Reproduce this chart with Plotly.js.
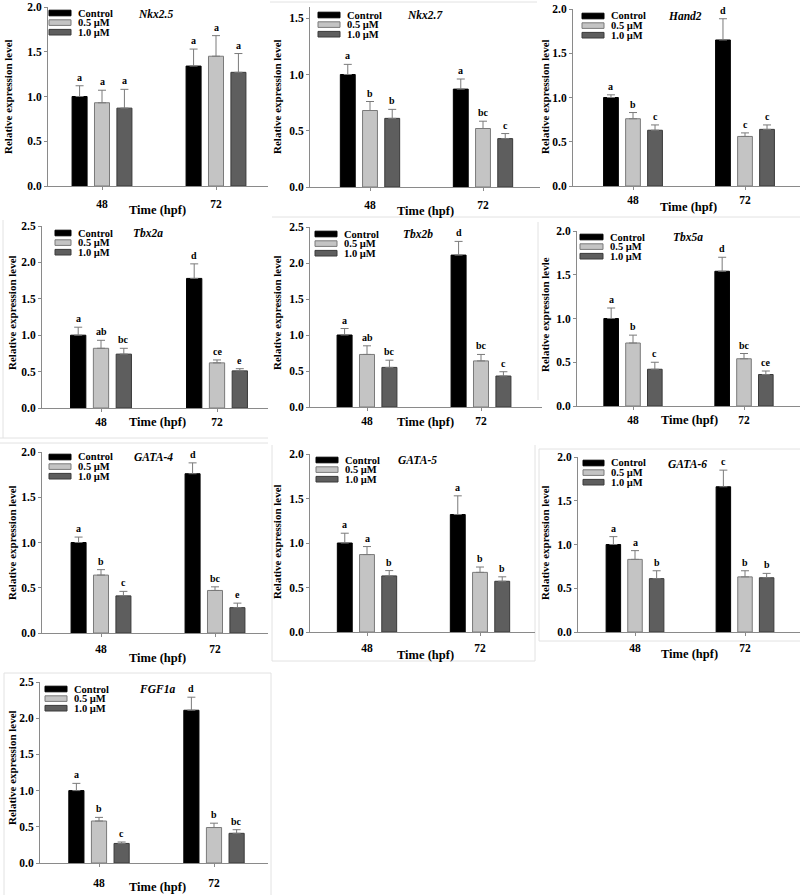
<!DOCTYPE html>
<html>
<head>
<meta charset="utf-8">
<script src="https://cdn.plot.ly/plotly-3.0.1.min.js"></script>
<style>html,body{margin:0;padding:0;background:#fff;}#chart{width:800px;height:895px;}</style>
</head>
<body>
<div id="chart"></div>
<script>
// ---------------- DATA ----------------
const groups = ['48', '72'];
const seriesNames = ['Control', '0.5 \u00b5M', '1.0 \u00b5M'];
const genes = ['Nkx2.5', 'Nkx2.7', 'Hand2', 'Tbx2a', 'Tbx2b', 'Tbx5a', 'GATA-4', 'GATA-5', 'GATA-6', 'FGF1a'];
const yTitles = ['Relative expression level', 'Relative expression level', 'Relative expression level',
  'Relative expression level', 'Relative expression level', 'Relative expression levle',
  'Relative expression level', 'Relative expression level', 'Relative expression level', 'Relative expression level'];
const yMax = [2.0, 1.6, 2.0, 2.5, 2.5, 2.0, 2.0, 2.0, 2.0, 2.5];

const controlMean = [[1.00, 1.34], [1.00, 0.87], [1.00, 1.65], [1.00, 1.78], [1.00, 2.11], [1.00, 1.54], [1.00, 1.76], [1.00, 1.32], [1.00, 1.66], [1.00, 2.11]];
const controlErr  = [[0.12, 0.19], [0.09, 0.09], [0.03, 0.24], [0.11, 0.20], [0.09, 0.19], [0.12, 0.16], [0.06, 0.12], [0.11, 0.21], [0.09, 0.19], [0.10, 0.18]];
const halfMean    = [[0.93, 1.45], [0.68, 0.52], [0.76, 0.56], [0.82, 0.62], [0.73, 0.64], [0.72, 0.54], [0.64, 0.47], [0.87, 0.67], [0.83, 0.63], [0.58, 0.49]];
const halfErr     = [[0.14, 0.23], [0.08, 0.065], [0.07, 0.04], [0.11, 0.04], [0.12, 0.09], [0.09, 0.06], [0.06, 0.04], [0.09, 0.06], [0.10, 0.07], [0.05, 0.06]];
const oneMean     = [[0.87, 1.27], [0.61, 0.43], [0.63, 0.64], [0.74, 0.51], [0.55, 0.43], [0.42, 0.36], [0.41, 0.28], [0.63, 0.57], [0.61, 0.62], [0.27, 0.41]];
const oneErr      = [[0.21, 0.21], [0.08, 0.045], [0.06, 0.05], [0.08, 0.03], [0.10, 0.06], [0.08, 0.04], [0.05, 0.05], [0.06, 0.05], [0.09, 0.05], [0.02, 0.05]];

const controlLetters = [['a', 'a'], ['a', 'a'], ['a', 'd'], ['a', 'd'], ['a', 'd'], ['a', 'd'], ['a', 'd'], ['a', 'a'], ['a', 'c'], ['a', 'd']];
const halfLetters    = [['a', 'a'], ['b', 'bc'], ['b', 'c'], ['ab', 'ce'], ['ab', 'bc'], ['b', 'bc'], ['b', 'bc'], ['a', 'b'], ['a', 'b'], ['b', 'b']];
const oneLetters     = [['a', 'a'], ['b', 'c'], ['c', 'c'], ['bc', 'e'], ['bc', 'c'], ['c', 'ce'], ['c', 'e'], ['b', 'b'], ['b', 'b'], ['c', 'bc']];

// ---------------- LAYOUT GEOMETRY (pixels) ----------------
// L: y-axis x, R: x-axis end, top: y px of range max, bot: y px of 0, c48/c72: group centres
const geom = [
  {L: 48,  R: 268, top: 7,   bot: 186, c48: 102, c72: 216, so: 4, yt: [8, 97],    xt: [157, 210], gn: [155, 14],  lg: [49, 76, 13]},
  {L: 310, R: 540, top: 7,   bot: 187, c48: 370, c72: 483, so: 4, yt: [277, 97],  xt: [425, 211], gn: [425, 15],  lg: [318, 345, 15]},
  {L: 573, R: 800, top: 9,   bot: 186, c48: 633, c72: 745, so: 0, yt: [545, 97],  xt: [688, 207], gn: [685, 16],  lg: [582, 609, 16]},
  {L: 42,  R: 268, top: 226, bot: 408, c48: 101, c72: 217, so: 0, yt: [12, 313],  xt: [157, 422], gn: [148, 233], lg: [55, 76, 233]},
  {L: 310, R: 542, top: 227, bot: 407, c48: 367, c72: 481, so: 0, yt: [277, 313], xt: [425, 422], gn: [418, 234], lg: [315, 342, 234]},
  {L: 577, R: 800, top: 231, bot: 406, c48: 633, c72: 744, so: 0, yt: [545, 315], xt: [689, 420], gn: [688, 237], lg: [580, 608, 237]},
  {L: 42,  R: 268, top: 452, bot: 633, c48: 101, c72: 215, so: 2, yt: [12, 543],  xt: [157, 658], gn: [153, 457], lg: [49, 76, 457]},
  {L: 310, R: 535, top: 454, bot: 632, c48: 367, c72: 480, so: 2, yt: [277, 542], xt: [425, 655], gn: [417, 460], lg: [316, 343, 460]},
  {L: 578, R: 800, top: 457, bot: 632, c48: 635, c72: 745, so: 2, yt: [545, 543], xt: [689, 654], gn: [687, 464], lg: [583, 609, 463]},
  {L: 40,  R: 268, top: 682, bot: 863, c48: 99,  c72: 214, so: 6, yt: [12, 768],  xt: [157, 887], gn: [157, 689], lg: [45, 72, 689]}
];

const W = 800, H = 895;
const px = v => v / W;
const py = v => 1 - v / H;

const FONT = '"Liberation Serif", "Times New Roman", "DejaVu Serif", serif';
const AXIS = '#8a8a8a';
const fills = ['#000000', '#c4c4c4', '#5e5e5e'];
const lines = ['#000000', '#7a7a7a', '#3a3a3a'];
const BARGAP = 0.41, GROUPGAP = 0.33;
const slot = (1 - BARGAP) / 3;

const means = [controlMean, halfMean, oneMean];
const errs = [controlErr, halfErr, oneErr];
const letters = [controlLetters, halfLetters, oneLetters];

const bf = (size) => ({family: FONT, size: size, color: '#000', weight: 'bold'});

const traces = [];
const annotations = [];
const shapes = [];
const layout = {
  width: W, height: H,
  margin: {l: 0, r: 0, t: 0, b: 0},
  paper_bgcolor: '#ffffff', plot_bgcolor: 'rgba(0,0,0,0)',
  barmode: 'group', bargap: BARGAP, bargroupgap: GROUPGAP,
  showlegend: false,
  font: {family: FONT, color: '#000'}
};

genes.forEach((gene, g) => {
  const G = geom[g];
  const n = g + 1;
  const xa = 'x' + (n === 1 ? '' : n), ya = 'y' + (n === 1 ? '' : n);
  const unit = G.c72 - G.c48;
  const xmin = -(G.c48 - G.L) / unit;
  const xmax = 1 + (G.R - G.c72) / unit;

  for (let s = 0; s < 3; s++) {
    traces.push({
      type: 'bar', name: seriesNames[s], x: [0, 1], y: means[s][g],
      xaxis: xa, yaxis: ya,
      marker: {color: fills[s], line: {color: lines[s], width: 1}},
      error_y: {type: 'data', symmetric: false, array: errs[s][g], arrayminus: [0, 0],
        color: '#7a7a7a', thickness: 1, width: 4},
      hoverinfo: 'skip', showlegend: false
    });
    for (let i = 0; i < 2; i++) {
      annotations.push({
        xref: xa, yref: ya, x: i + (s - 1) * slot, y: means[s][g][i] + errs[s][g][i],
        text: letters[s][g][i], showarrow: false,
        xanchor: 'center', yanchor: 'bottom', yshift: 1,
        font: bf(10)
      });
    }
  }

  layout['xaxis' + (n === 1 ? '' : n)] = {
    domain: [px(G.L), px(G.R)], anchor: ya, range: [xmin, xmax],
    tickvals: [0, 1], ticktext: groups,
    ticks: 'outside', ticklen: 3, tickcolor: AXIS, showline: true, linecolor: AXIS, linewidth: 1,
    showgrid: false, zeroline: false, fixedrange: true, ticklabelstandoff: G.so,
    tickfont: bf(11.5)
  };
  layout['yaxis' + (n === 1 ? '' : n)] = {
    domain: [py(G.bot), py(G.top)], anchor: xa, range: [0, yMax[g]],
    dtick: 0.5, tick0: 0, tickformat: '.1f',
    ticks: 'outside', ticklen: 3, tickcolor: AXIS, showline: true, linecolor: AXIS, linewidth: 1,
    showgrid: false, zeroline: false, fixedrange: true,
    tickfont: bf(11.5)
  };

  // axis titles
  annotations.push({xref: 'paper', yref: 'paper', x: px(G.yt[0]), y: py(G.yt[1]),
    text: yTitles[g], textangle: -90, showarrow: false,
    xanchor: 'center', yanchor: 'middle', font: bf(11)});
  annotations.push({xref: 'paper', yref: 'paper', x: px(G.xt[0]), y: py(G.xt[1]),
    text: 'Time (hpf)', showarrow: false,
    xanchor: 'center', yanchor: 'middle', font: bf(12.5)});
  // gene name
  annotations.push({xref: 'paper', yref: 'paper', x: px(G.gn[0]), y: py(G.gn[1]),
    text: gene, showarrow: false,
    xanchor: 'center', yanchor: 'middle', font: Object.assign(bf(11.5), {style: 'italic'})});
  // legend
  for (let s = 0; s < 3; s++) {
    const cy = G.lg[2] + s * 9.6;
    shapes.push({type: 'rect', xref: 'paper', yref: 'paper',
      x0: px(G.lg[0]), x1: px(G.lg[1] - 5), y0: py(cy + 2.8), y1: py(cy - 2.8),
      fillcolor: fills[s], line: {color: lines[s], width: 1}});
    annotations.push({xref: 'paper', yref: 'paper', x: px(G.lg[1]), y: py(cy),
      text: seriesNames[s], showarrow: false,
      xanchor: 'left', yanchor: 'middle', font: bf(10.5)});
  }
});

// faint panel frames
const frameLines = [
  [270, 2, 537, 2], [272, 217, 800, 217], [538, 222, 538, 400],
  [3, 220, 3, 438], [0, 438, 268, 438], [0, 443, 268, 443],
  [272, 445, 272, 661], [272, 661, 535, 661], [535, 445, 535, 661],
  [539, 449, 800, 449], [539, 449, 539, 641], [539, 641, 800, 641],
  [4, 673, 271, 673], [4, 673, 4, 895], [271, 673, 271, 895]
];
frameLines.forEach(f => shapes.push({type: 'line', xref: 'paper', yref: 'paper',
  x0: px(f[0]), y0: py(f[1]), x1: px(f[2]), y1: py(f[3]), line: {color: '#e2e2e2', width: 1}, layer: 'below'}));

layout.annotations = annotations;
layout.shapes = shapes;

Plotly.newPlot('chart', traces, layout, {staticPlot: true, displayModeBar: false});
</script>
</body>
</html>
